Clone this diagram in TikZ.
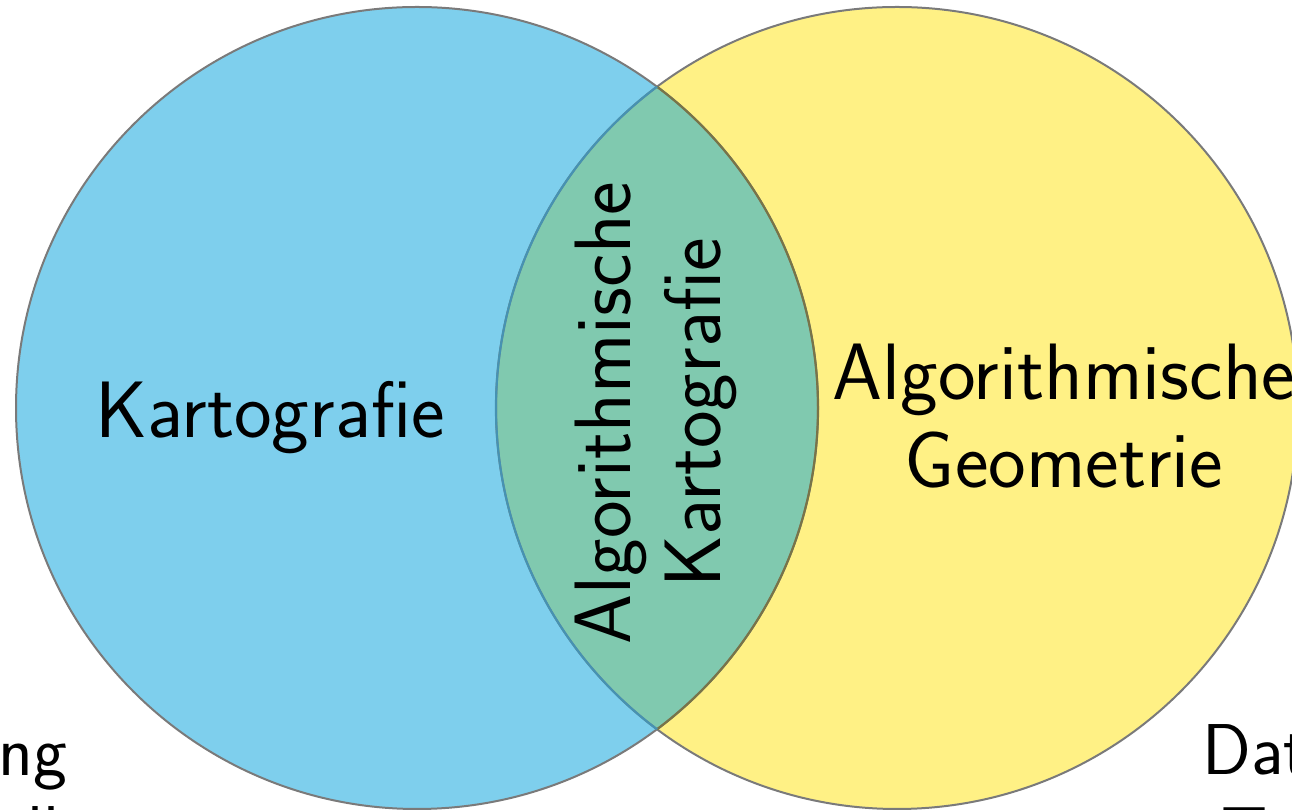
\documentclass[tikz,border=0pt]{standalone}
\definecolor{cblue}{RGB}{126,207,237}
\definecolor{cyell}{RGB}{255,241,133}
\definecolor{clens}{RGB}{128,201,175}
\definecolor{cedge}{RGB}{122,122,122}
\definecolor{cledge}{RGB}{70,146,178}
\definecolor{credge}{RGB}{120,116,72}
\tikzset{
  x=1pt, y=1pt,
  lbl/.style={font=\sffamily\fontsize{80}{88}\selectfont, inner sep=0pt, text=black},
  lblv/.style={font=\sffamily\fontsize{80}{90}\selectfont, inner sep=0pt, text=black},
  lbls/.style={font=\sffamily\fontsize{72}{88}\selectfont, inner sep=0pt, text=black},
  edge/.style={draw=cedge, line width=2pt}
}
\begin{document}
\begin{tikzpicture}
\useasboundingbox (0,0) rectangle (1292,810);
\clip (0,0) rectangle (1292,810);
% circles
\coordinate (cl) at (417,402);
\coordinate (cr) at (897,402);
\fill[cblue] (cl) circle (401);
\fill[cyell] (cr) circle (401);
\begin{scope}
  \clip (cl) circle (401);
  \fill[clens] (cr) circle (401);
\end{scope}
% outlines
\draw[edge] (cl) circle (401);
\draw[edge] (cr) circle (401);
\begin{scope}
  \clip (cr) circle (401);
  \draw[draw=credge, line width=2.2pt] (cl) circle (401);
\end{scope}
\begin{scope}
  \clip (cl) circle (401);
  \draw[draw=cledge, line width=2.2pt] (cr) circle (401);
\end{scope}
% labels
\node[lbl, anchor=base] (kart) at (270,372) {Kartografie};
\node[lbl, anchor=base, align=center] (geo) at (1064,322) {Algorithmische\\Geometrie};
\node[lblv, rotate=90, align=center] (ak) at (656,397) {Algorithmische\\Kartografie};
\node[lbls, anchor=base west] (bl) at (-2,34) {ng};
\node[lbls, anchor=base west] (bl2) at (27,-47) {ll};
\node[lbls, anchor=base west] (br) at (1202,35) {Dat};
\node[lbls, anchor=base west] (br2) at (1221,-48) {T};
\end{tikzpicture}
\end{document}
